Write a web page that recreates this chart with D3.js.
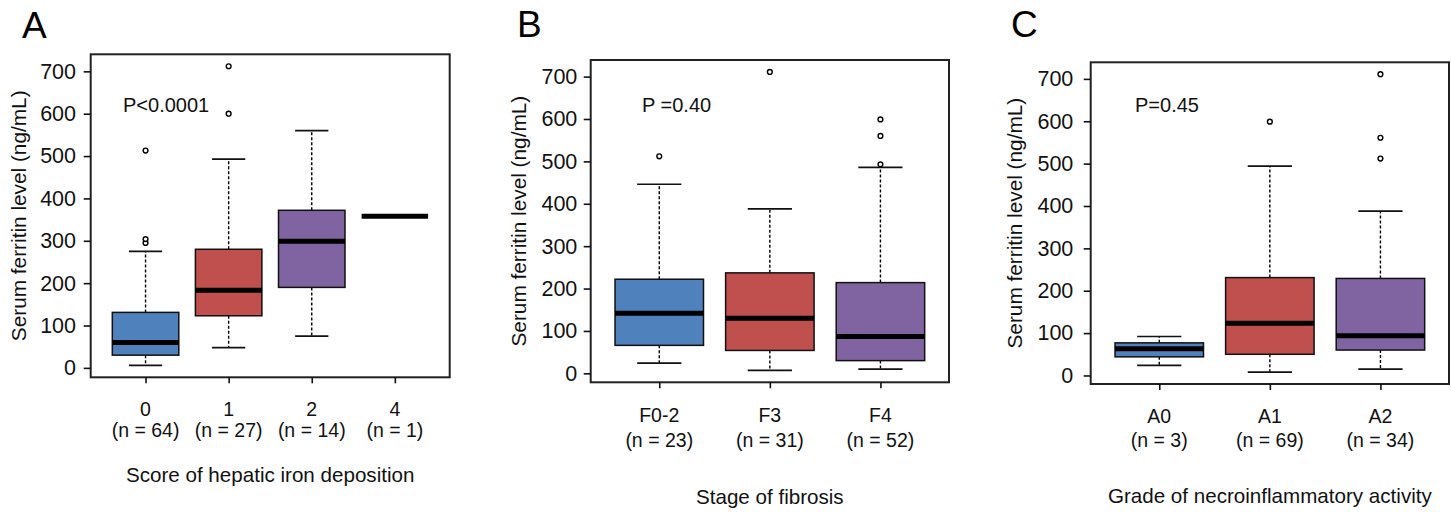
<!DOCTYPE html>
<html>
<head>
<meta charset="utf-8">
<script src="https://cdn.jsdelivr.net/npm/d3@7"></script>
<style>
  body { margin:0; background:#fff; }
  svg { font-family:"Liberation Sans", Arial, sans-serif; display:block; }
</style>
</head>
<body>
<svg></svg>
<script>
// ---- data ----
// stats rows: [lower whisker, Q1, median, Q3, upper whisker]
var catsA = ["0","1","2","4"];
var nA = [64,27,14,1];
var statsA = [[6,30,60,131,275],[48,123,183,280,493],[75,190,299,372,560],[358,358,358,358,358]];
var outA = [[295,304,513],[600,712],[],[]];

var catsB = ["F0-2","F3","F4"];
var nB = [23,31,52];
var statsB = [[24,66,142,222,446],[7,54,130,237,388],[10,30,87,214,486]];
var outB = [[512],[711],[493,560,599]];

var catsC = ["A0","A1","A2"];
var nC = [3,69,34];
var statsC = [[24,44,63,77,92],[8,50,123,231,494],[15,60,94,229,388]];
var outC = [[],[599],[512,561,711]];

var yTicks = [0,100,200,300,400,500,600,700];
var pLabels = ["P<0.0001","P =0.40","P=0.45"];
var xTitles = ["Score of hepatic iron deposition","Stage of fibrosis","Grade of necroinflammatory activity"];
var letters = ["A","B","C"];
var yTitle = "Serum ferritin level (ng/mL)";

var fills = ["#4F81BD","#C0504D","#8064A2"];

// ---- layout ----
var svg = d3.select("svg")
            .attr("width",1451)
            .attr("height",512);

svg.append("rect").attr("width",1451).attr("height",512).attr("fill","#fff");

var panels = [
  {cats:catsA, n:nA, stats:statsA, out:outA,
   left:90.7, right:449.7, top:54.3, bottom:377.3,
   letterX:22, letterY:38, pX:123, pY:111.5, yTitleX:26, tickPad:7.7,
   catY:38.7, nY:60, titleY:104.4},
  {cats:catsB, n:nB, stats:statsB, out:outB,
   left:590.7, right:949, top:60, bottom:382.3,
   letterX:517, letterY:36.7, pX:642, pY:111.5, yTitleX:525.5, tickPad:6.4,
   catY:39.4, nY:64.4, titleY:121.5},
  {cats:catsC, n:nC, stats:statsC, out:outC,
   left:1090.7, right:1449, top:62.3, bottom:384,
   letterX:1011, letterY:37, pX:1135, pY:111.5, yTitleX:1021.5, tickPad:10.4,
   catY:39.3, nY:62.7, titleY:119}
];

panels.forEach(function(p,k)
{
  var n = p.cats.length;

  // R style limits: 4% padding on each side
  var allVals = [];
  p.stats.forEach(function(s){ allVals = allVals.concat(s); });
  p.out.forEach(function(o){ allVals = allVals.concat(o); });
  var lo = d3.min(allVals), hi = d3.max(allVals);
  var pad = (hi-lo)*0.04;

  var yScale = d3.scaleLinear()
                 .domain([lo-pad, hi+pad])
                 .range([p.bottom, p.top]);
  var xPad = n*0.04;
  var xScale = d3.scaleLinear()
                 .domain([0.5-xPad, n+0.5+xPad])
                 .range([p.left, p.right]);
  var unit = xScale(2)-xScale(1);

  var g = svg.append("g").classed("panel",true);

  // boxes
  var groups = g.selectAll("g.box")
                .data(p.stats)
                .enter()
                .append("g")
                .classed("box",true);

  // dashed whiskers
  groups.append("line")
        .attr("x1",function(d,i){return xScale(i+1)})
        .attr("x2",function(d,i){return xScale(i+1)})
        .attr("y1",function(d){return yScale(d[3])})
        .attr("y2",function(d){return yScale(d[4])})
        .attr("stroke","#000").attr("stroke-width",1.4)
        .attr("stroke-dasharray","3,2");
  groups.append("line")
        .attr("x1",function(d,i){return xScale(i+1)})
        .attr("x2",function(d,i){return xScale(i+1)})
        .attr("y1",function(d){return yScale(d[1])})
        .attr("y2",function(d){return yScale(d[0])})
        .attr("stroke","#000").attr("stroke-width",1.4)
        .attr("stroke-dasharray","3,2");

  // caps
  [0,4].forEach(function(j)
  {
    groups.append("line")
          .attr("x1",function(d,i){return xScale(i+1-0.2)})
          .attr("x2",function(d,i){return xScale(i+1+0.2)})
          .attr("y1",function(d){return yScale(d[j])})
          .attr("y2",function(d){return yScale(d[j])})
          .attr("stroke","#111").attr("stroke-width",1.7);
  });

  groups.append("rect")
        .attr("x",function(d,i){return xScale(i+1-0.4)})
        .attr("width",0.8*unit)
        .attr("y",function(d){return yScale(d[3])})
        .attr("height",function(d){return yScale(d[1])-yScale(d[3])})
        .attr("fill",function(d,i){return fills[i % 3]})
        .attr("stroke","#111")
        .attr("stroke-width",1.5);

  groups.append("line")
        .attr("x1",function(d,i){return xScale(i+1-0.4)})
        .attr("x2",function(d,i){return xScale(i+1+0.4)})
        .attr("y1",function(d){return yScale(d[2])})
        .attr("y2",function(d){return yScale(d[2])})
        .attr("stroke","#000").attr("stroke-width",5);

  // outliers
  p.out.forEach(function(o,i)
  {
    g.selectAll(null)
     .data(o)
     .enter()
     .append("circle")
     .attr("cx",xScale(i+1))
     .attr("cy",function(d){return yScale(d)})
     .attr("r",2.4)
     .attr("fill","#fff")
     .attr("stroke","#000")
     .attr("stroke-width",1.4);
  });

  // frame
  g.append("rect")
   .attr("x",p.left).attr("y",p.top)
   .attr("width",p.right-p.left).attr("height",p.bottom-p.top)
   .attr("fill","none").attr("stroke","#222").attr("stroke-width",2);

  // y axis
  var yAxis = d3.axisLeft(yScale).tickValues(yTicks).tickSize(7).tickPadding(p.tickPad);
  var ya = g.append("g")
            .attr("transform","translate("+p.left+",0)")
            .call(yAxis);
  ya.select(".domain").remove();
  ya.selectAll("line").attr("stroke","#111").attr("stroke-width",1.6);
  ya.selectAll("text").attr("font-size",21.5).attr("fill","#111")
    .attr("font-family","Liberation Sans, Arial, sans-serif");

  // x axis
  var xAxis = d3.axisBottom(xScale).tickValues(d3.range(1,n+1)).tickSize(6).tickFormat("");
  var xa = g.append("g")
            .attr("transform","translate(0,"+p.bottom+")")
            .call(xAxis);
  xa.select(".domain").remove();
  xa.selectAll("line").attr("stroke","#111").attr("stroke-width",1.6);

  p.cats.forEach(function(c,i)
  {
    g.append("text")
     .attr("x",xScale(i+1))
     .attr("y",p.bottom+p.catY)
     .attr("text-anchor","middle")
     .attr("font-size",19.5).attr("fill","#111")
     .text(c);
    g.append("text")
     .attr("x",xScale(i+1))
     .attr("y",p.bottom+p.nY)
     .attr("text-anchor","middle")
     .attr("font-size",19.5).attr("fill","#111")
     .text("(n = "+p.n[i]+")");
  });

  // titles
  g.append("text")
   .attr("x",(p.left+p.right)/2)
   .attr("y",p.bottom+p.titleY)
   .attr("text-anchor","middle")
   .attr("font-size",20.6).attr("fill","#111")
   .text(xTitles[k]);

  g.append("text")
   .attr("transform","translate("+p.yTitleX+","+((p.top+p.bottom)/2)+") rotate(-90)")
   .attr("text-anchor","middle")
   .attr("font-size",20.8).attr("fill","#111")
   .text(yTitle);

  g.append("text")
   .attr("x",p.pX).attr("y",p.pY)
   .attr("font-size",20).attr("fill","#111")
   .text(pLabels[k]);

  g.append("text")
   .attr("x",p.letterX).attr("y",p.letterY)
   .attr("font-size",37).attr("fill","#000")
   .text(letters[k]);
});
</script>
</body>
</html>
